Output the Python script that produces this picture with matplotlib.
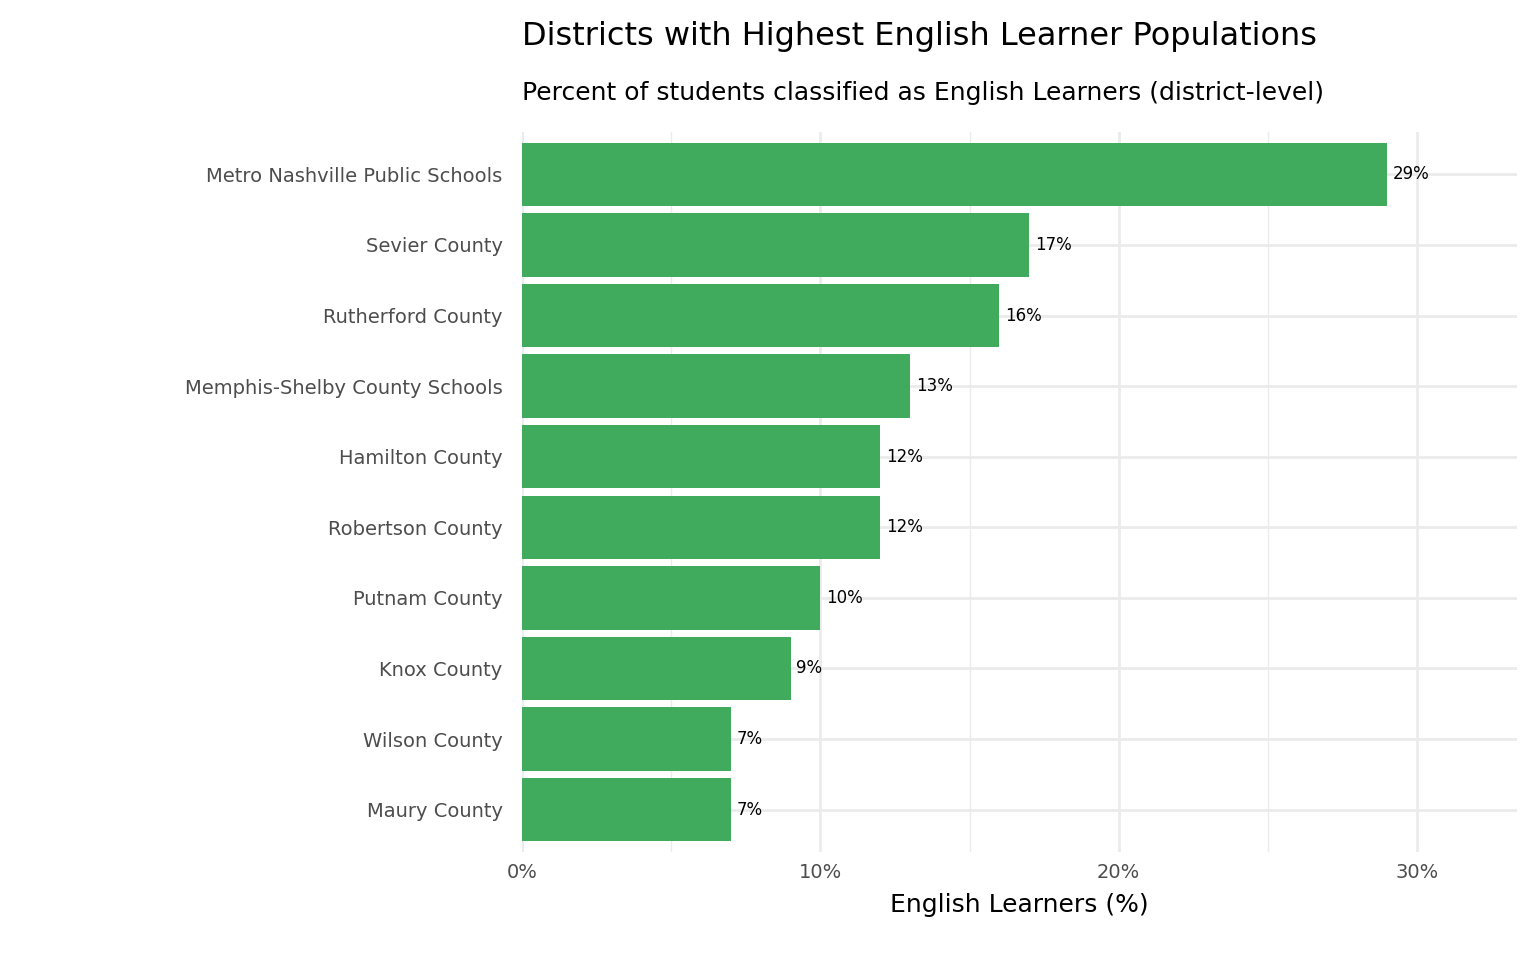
import matplotlib

matplotlib.use("Agg")
import matplotlib.pyplot as plt
from matplotlib.ticker import MultipleLocator, FuncFormatter

districts = [
    "Metro Nashville Public Schools",
    "Sevier County",
    "Rutherford County",
    "Memphis-Shelby County Schools",
    "Hamilton County",
    "Robertson County",
    "Putnam County",
    "Knox County",
    "Wilson County",
    "Maury County",
]
el_pct = [29, 17, 16, 13, 12, 12, 10, 9, 7, 7]

fig = plt.figure(figsize=(15.36, 9.6), dpi=100)
ax = fig.add_axes([522 / 1536, 1 - 852 / 960, (1517 - 522) / 1536, (852 - 132) / 960])

ypos = list(range(len(districts)))[::-1]
ax.barh(ypos, el_pct, height=0.9, color="#41AB5D", zorder=2)
for y, v in zip(ypos, el_pct):
    ax.text(v + 0.2, y, f"{v}%", va="center", ha="left", fontsize=12, color="black")

ax.set_xlim(0, 33.35)
ax.set_ylim(-0.6, len(districts) - 0.4)
ax.set_yticks(ypos)
ax.set_yticklabels(districts, fontsize=14, color="#4d4d4d")
ax.xaxis.set_major_locator(MultipleLocator(10))
ax.xaxis.set_minor_locator(MultipleLocator(5))
ax.xaxis.set_major_formatter(FuncFormatter(lambda x, _: f"{x:.0f}%"))
ax.tick_params(axis="x", labelsize=14, labelcolor="#4d4d4d", length=0, which="both", pad=8)
ax.tick_params(axis="y", length=0, pad=14)
ax.grid(True, which="major", color="#ebebeb", linewidth=2, zorder=0)
ax.grid(True, which="minor", axis="x", color="#ebebeb", linewidth=1, zorder=0)
ax.set_axisbelow(True)
for s in ax.spines.values():
    s.set_visible(False)
ax.set_xlabel("English Learners (%)", fontsize=18, labelpad=8)

fig.text(522 / 1536, 1 - 37 / 960, "Districts with Highest English Learner Populations",
         fontsize=23, va="center", ha="left")
fig.text(522 / 1536, 1 - 93 / 960, "Percent of students classified as English Learners (district-level)",
         fontsize=18, va="center", ha="left")

fig.savefig("out.png", dpi=100)
